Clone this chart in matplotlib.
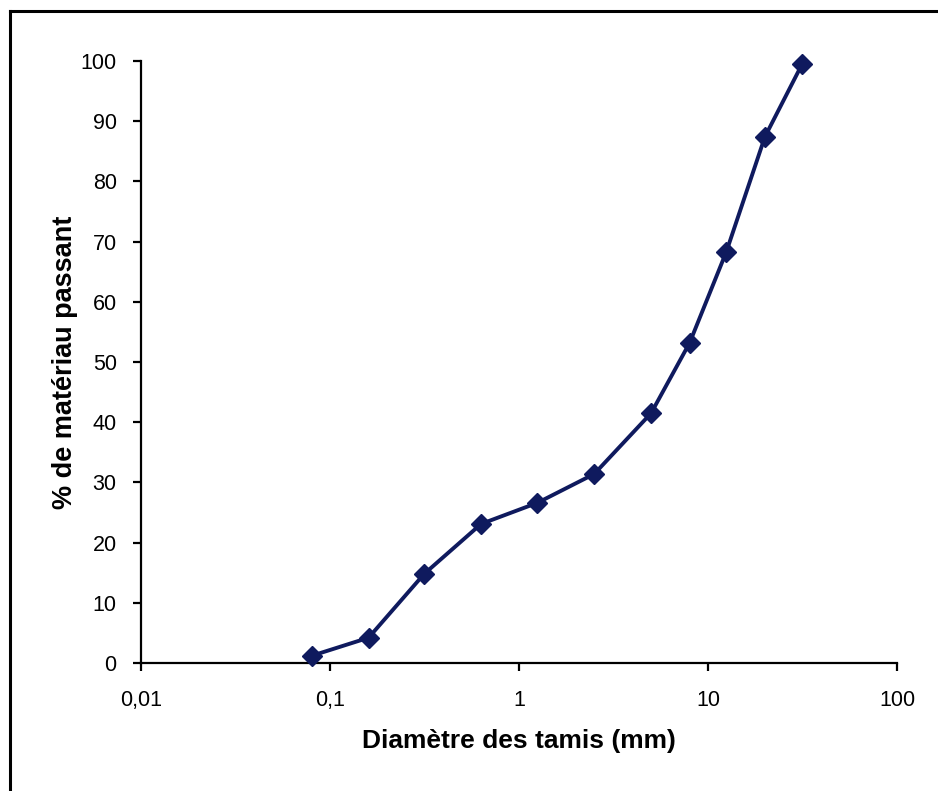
import matplotlib
matplotlib.use("Agg")
import matplotlib.pyplot as plt
from matplotlib.lines import Line2D
from matplotlib.ticker import FixedLocator, FixedFormatter, NullLocator

plt.rcParams['font.family'] = ['Liberation Sans', 'DejaVu Sans']

# tamis (mm) et % passant
diametres = [0.08, 0.16, 0.315, 0.63, 1.25, 2.5, 5, 8, 12.5, 20, 31.5]
passant = [1.2, 4.2, 14.8, 23.1, 26.6, 31.4, 41.5, 53.2, 68.3, 87.4, 99.5]

x_ticks = [0.01, 0.1, 1, 10, 100]
x_labels = ["0,01", "0,1", "1", "10", "100"]
y_ticks = list(range(0, 101, 10))

fig = plt.figure(figsize=(9.38, 7.91), dpi=100)
ax = fig.add_axes([0.1503, 0.1618, 0.806, 0.7611])

ax.plot(diametres, passant, color='#0f1a5e', linewidth=2.8, clip_on=False, zorder=3,
        marker='D', markersize=10.5, markerfacecolor='#0f1a5e', markeredgecolor='#0f1a5e')

ax.set_xscale('log')
ax.set_xlim(0.01, 100)
ax.set_ylim(0, 100)
ax.xaxis.set_major_locator(FixedLocator(x_ticks))
ax.xaxis.set_major_formatter(FixedFormatter(x_labels))
ax.xaxis.set_minor_locator(NullLocator())
ax.set_yticks(y_ticks)

for s in ['top', 'right']:
    ax.spines[s].set_visible(False)
for s in ['left', 'bottom']:
    ax.spines[s].set_linewidth(1.6)
ax.tick_params(axis='both', direction='out', length=5.5, width=1.6, labelsize=15.5, pad=12)
ax.tick_params(axis='x', pad=14)

ax.set_xlabel("Diamètre des tamis (mm)", fontsize=19, fontweight='bold', labelpad=13)
ax.set_ylabel("% de matériau passant", fontsize=19.5, fontweight='bold', labelpad=2)

# cadre
fig.add_artist(Line2D([9.5 / 938, 1], [1 - 10.5 / 791, 1 - 10.5 / 791], color='black', linewidth=2.2))
fig.add_artist(Line2D([9.5 / 938, 9.5 / 938], [0, 1 - 10.5 / 791], color='black', linewidth=2.2))

fig.savefig("out.png", dpi=100)
